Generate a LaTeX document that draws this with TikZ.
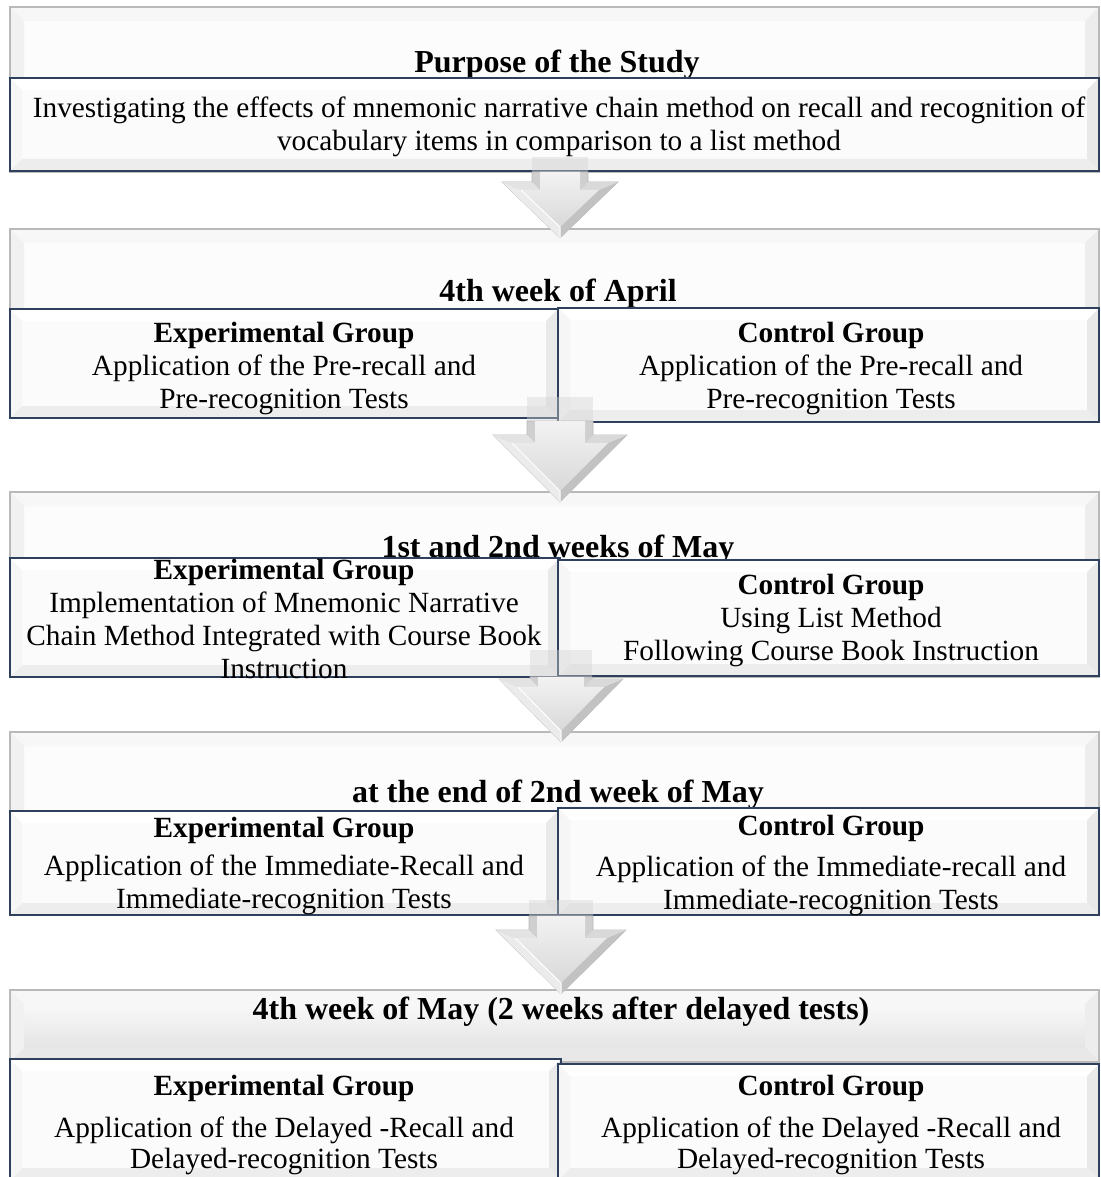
\documentclass[tikz,border=0pt]{standalone}
\usepackage{fontspec}
\setmainfont{Liberation Serif}
\usetikzlibrary{calc}

\definecolor{boxline}{RGB}{46,64,92}

% bevel strips drawn inside a node (size, top, right, bottom, left)
\newcommand\bevelstrips[5]{%
  \fill[#2] (path picture bounding box.north west) -- (path picture bounding box.north east) -- ++(-#1,#1) -- ($(path picture bounding box.north west)+(#1,#1)$) -- cycle;
  \fill[#3] (path picture bounding box.north east) -- (path picture bounding box.south east) -- ++(-#1,-#1) -- ($(path picture bounding box.north east)+(-#1,#1)$) -- cycle;
  \fill[#4] (path picture bounding box.south east) -- (path picture bounding box.south west) -- ++(#1,-#1) -- ($(path picture bounding box.south east)+(-#1,-#1)$) -- cycle;
  \fill[#5] (path picture bounding box.south west) -- (path picture bounding box.north west) -- ++(#1,#1) -- ($(path picture bounding box.south west)+(#1,-#1)$) -- cycle;
}

% big 3d arrow: cx, faint top, solid top, head top, tip, shaft half, head half
\newcommand\bigarrow[7]{%
  \fill[gray!35, opacity=.4] ({#1-#6},#2) rectangle ({#1+#6},#3);
  \filldraw[fill=gray!38, draw=gray!55, line width=.6pt]
    ({#1-#6},#3) -- ({#1+#6},#3) -- ({#1+#6},#4) -- ({#1+#7},#4) -- (#1,#5)
    -- ({#1-#7},#4) -- ({#1-#6},#4) -- cycle;
  \fill[gray!16] ({#1-#7},#4) -- (#1,#5) -- (#1,{#5-11}) -- ({#1-#7+19},{#4+8}) -- cycle;
  \fill[gray!48] ({#1+#7},#4) -- (#1,#5) -- (#1,{#5-11}) -- ({#1+#7-19},{#4+8}) -- cycle;
  \fill[gray!22] ({#1-#7},#4) -- ({#1-#6},#4) -- ({#1-#6+8},{#4+8}) -- ({#1-#7+19},{#4+8}) -- cycle;
  \fill[gray!30] ({#1+#7},#4) -- ({#1+#6},#4) -- ({#1+#6-8},{#4+8}) -- ({#1+#7-19},{#4+8}) -- cycle;
  \shade[top color=gray!10, bottom color=gray!30]
    ({#1-#6+8},#3) -- ({#1+#6-8},#3) -- ({#1+#6-8},{#4+8}) -- ({#1+#7-19},{#4+8})
    -- (#1,{#5-11}) -- ({#1-#7+19},{#4+8}) -- ({#1-#6+8},{#4+8}) -- cycle;
  \draw[white, line width=1pt] ({#1-#7+19},{#4+8}) -- (#1,{#5-11}) -- (#1,#5);
}

\tikzset{
  panel/.style={rectangle, draw=gray!55, line width=1.2pt, fill=gray!2, inner sep=0pt,
    path picture={\bevelstrips{14}{gray!6}{gray!14}{gray!18}{gray!11}}},
  grpbox/.style={rectangle, draw=boxline, line width=2.2pt, fill=gray!3, inner sep=0pt,
    path picture={\bevelstrips{12}{white}{gray!17}{gray!14}{gray!7}}},
  ttl/.style={font=\fontsize{32}{36}\selectfont\bfseries, inner sep=0pt},
  txt/.style={font=\fontsize{29.3}{33}\selectfont, align=center, inner sep=0pt}
}

\begin{document}
\begin{tikzpicture}[x=1pt, y=-1pt]
  \useasboundingbox (0,0) rectangle (1100,1177);
  \clip (0,0) rectangle (1100,1177);

  % panels with the period titles
  \node[panel, minimum width=1089, minimum height=165] (purposePanel) at (554.5,89.5) {};
  \node[panel, minimum width=1089, minimum height=189] (aprilPanel) at (554.5,323.5) {};
  \node[panel, minimum width=1089, minimum height=185] (mayPanel) at (554.5,584.5) {};
  \node[panel, minimum width=1089, minimum height=183] (endPanel) at (554.5,823.5) {};
  \node[panel, top color=white, bottom color=gray!26, minimum width=1089, minimum height=72] (delPanel) at (554.5,1026) {};

  \node[ttl] (purposeTitle) at (557,64.6) {Purpose of the Study};
  \node[ttl] (aprilTitle) at (558,293.6) {4th week of April};
  \node[ttl] (mayTitle) at (558,549.6) {1st and 2nd weeks of May};
  \node[ttl] (endTitle) at (558,794.6) {at the end of 2nd week of May};
  \node[ttl] (delTitle) at (561,1011.6) {4th week of May (2 weeks after delayed tests)};

  % group boxes
  \node[grpbox, minimum width=1089, minimum height=93] (purposeBox) at (554.5,124.5) {};
  \node[grpbox, minimum width=548, minimum height=109] (aprilExpBox) at (284,363.5) {};
  \node[grpbox, minimum width=541, minimum height=114] (aprilCtrlBox) at (828.5,365) {};
  \node[grpbox, minimum width=550, minimum height=119] (mayExpBox) at (285,617.5) {};
  \node[grpbox, minimum width=541, minimum height=116] (mayCtrlBox) at (828.5,618) {};
  \node[grpbox, minimum width=548, minimum height=104] (endExpBox) at (284,863) {};
  \node[grpbox, minimum width=541, minimum height=107] (endCtrlBox) at (828.5,861.5) {};
  \node[grpbox, minimum width=551, minimum height=121] (delExpBox) at (285.5,1119.5) {};
  \node[grpbox, minimum width=541, minimum height=116] (delCtrlBox) at (828.5,1122) {};

  % arrows
  \bigarrow{560}{157}{172}{182}{238}{28}{58}
  \bigarrow{560}{397}{421}{435}{502}{33}{67}
  \bigarrow{561}{650}{677}{679}{742}{31}{62}
  \bigarrow{561}{900}{916}{930}{994}{32}{65}

  % texts
  \node[txt] (purposeText) at (559,127) {Investigating the effects of mnemonic narrative chain method on recall and recognition of\\vocabulary items in comparison to a list method};
  \node[txt] (aprilExp) at (284,368.2) {\textbf{Experimental Group}\\Application of the Pre-recall and\\Pre-recognition Tests};
  \node[txt] (aprilCtrl) at (831,368.2) {\textbf{Control Group}\\Application of the Pre-recall and\\Pre-recognition Tests};
  \node[txt] (mayExp) at (284,618.6) {\textbf{Experimental Group}\\Implementation of Mnemonic Narrative\\Chain Method Integrated with Course Book\\Instruction};
  \node[txt] (mayCtrl) at (831,620.3) {\textbf{Control Group}\\Using List Method\\Following Course Book Instruction};
  \node[txt] (endExp) at (284,865.7) {\textbf{Experimental Group}\\[5pt]Application of the Immediate-Recall and\\Immediate-recognition Tests};
  \node[txt] (endCtrl) at (831,865.2) {\textbf{Control Group}\\[8pt]Application of the Immediate-recall and\\Immediate-recognition Tests};
  \node[txt] (delExp) at (284,1124.8) {\textbf{Experimental Group}\\[9pt]Application of the Delayed -Recall and\\[-2pt]Delayed-recognition Tests};
  \node[txt] (delCtrl) at (831,1124.8) {\textbf{Control Group}\\[9pt]Application of the Delayed -Recall and\\[-2pt]Delayed-recognition Tests};
\end{tikzpicture}
\end{document}
